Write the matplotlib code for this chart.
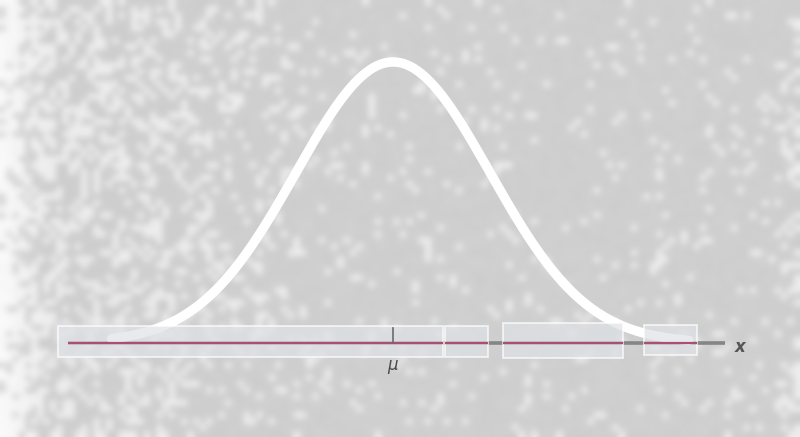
import numpy as np
import matplotlib
matplotlib.use("Agg")
import matplotlib.pyplot as plt
from matplotlib.patches import Rectangle

# Normal density parameters
mu = 0.0
sigma = 1.0

# Highlighted intervals along the x axis (in units of sigma from the mean)
intervals = [(-3.45, 0.515), (0.535, 0.98), (1.135, 2.37), (2.59, 3.135)]
interval_heights = [(-0.020, 0.024), (-0.020, 0.024), (-0.021, 0.028), (-0.017, 0.026)]

axis_label = "x"
mean_label = "\u03bc"

fig = plt.figure(figsize=(8.0, 4.37), dpi=100)
ax = fig.add_axes([0, 0, 1, 1])
x_lo, x_hi = -4.052, 4.196
y_lo, y_hi = -0.1334, 0.4869
ax.set_xlim(x_lo, x_hi)
ax.set_ylim(y_lo, y_hi)
ax.axis("off")

# Paper-like grainy grey backdrop, blotchier and whiter toward the left edge
rng = np.random.default_rng(7)
h, w = 70, 128
grain = rng.random((h, w))
cols = np.linspace(0, 1, w)[None, :]
left = np.clip(1.0 - cols / 0.42, 0, 1)
edge = np.clip(1.0 - cols / 0.06, 0, 1)
right_edge = np.clip((cols - 0.975) / 0.025, 0, 1)
thresh = 0.93 - 0.45 * left - 0.3 * edge - 0.4 * right_edge
speck = (grain > thresh).astype(float)
tex = 0.80 + 0.11 * speck + 0.02 * grain + 0.05 * edge
tex = np.clip(tex, 0, 1)
ax.imshow(tex, cmap="gray", vmin=0, vmax=1, extent=[x_lo, x_hi, y_lo, y_hi],
          aspect="auto", interpolation="bicubic", zorder=0)

# Shaded interval boxes
for (a, b), (lo, hi) in zip(intervals, interval_heights):
    ax.add_patch(Rectangle((a, lo), b - a, hi - lo, facecolor="#dfe2e6", alpha=0.7,
                           edgecolor="white", linewidth=1.3, zorder=6))

# Horizontal axis
ax.plot([-3.35, 3.42], [0, 0], color="#858585", linewidth=2.6, zorder=3,
        solid_capstyle="butt")
for a, b in intervals:
    ax.plot([max(a, -3.35), b], [0, 0], color="#a8506e",
            linewidth=1.6, zorder=7, solid_capstyle="butt")

# Bell curve
xs = np.linspace(mu - 2.9 * sigma, mu + 3.05 * sigma, 400)
ys = np.exp(-0.5 * ((xs - mu) / sigma) ** 2) / (sigma * np.sqrt(2 * np.pi))
ax.plot(xs, ys, color="white", linewidth=6.8, solid_capstyle="round", zorder=5)

# Mean tick and labels
ax.plot([mu, mu], [0, 0.022], color="#6a6a6a", linewidth=1.2, zorder=8)
ax.text(mu, -0.031, mean_label, ha="center", va="center", fontsize=12,
        style="italic", color="#4a4a4a", zorder=8)
ax.text(3.577, -0.006, axis_label, ha="center", va="center", fontsize=12,
        style="italic", fontweight="bold", color="#555555", zorder=8)

fig.savefig("out.png", dpi=100)
